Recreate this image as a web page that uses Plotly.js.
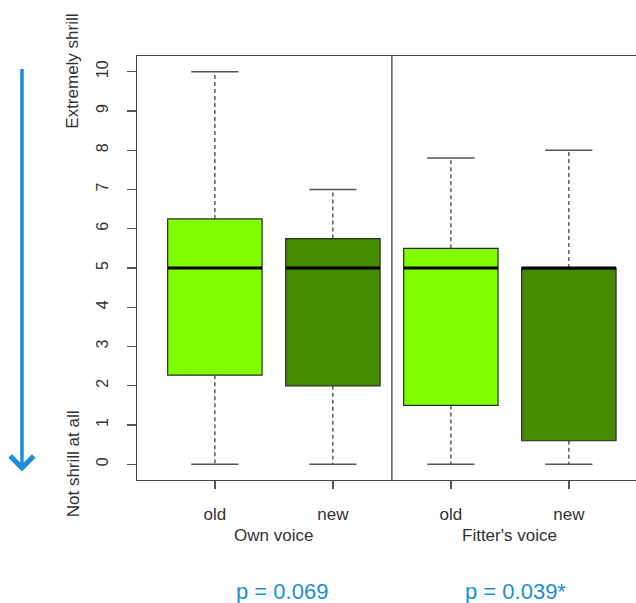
<!DOCTYPE html>
<html>
<head>
<meta charset="utf-8">
<script src="https://cdn.plot.ly/plotly-3.0.1.min.js"></script>
<style>html,body{margin:0;padding:0;background:#fff;}#chart{width:636px;height:603px;}</style>
</head>
<body>
<div id="chart"></div>
<script>
// Data
const positions   = [1, 2, 3, 4];
const tickLabels  = ["old", "new", "old", "new"];
const groupLabels = ["Own voice", "Fitter's voice"];
const groupCenters = [1.5, 3.5];
const pLabels     = ["p = 0.069", "p = 0.039*"];
const pCenters    = [1.57, 3.55];
const minVals     = [0, 0, 0, 0];
const q1Vals      = [2.27, 2.0, 1.5, 0.6];
const medianVals  = [5, 5, 5, 5];
const q3Vals      = [6.25, 5.75, 5.5, 5.0];
const maxVals     = [10, 7, 7.8, 8];
const boxColors   = ["#7FFF00", "#458B00", "#7FFF00", "#458B00"];

const BOXW = 0.8, CAPW = 0.4;
const FONT = "Liberation Sans, Arial";
const traces = [];

positions.forEach((p, i) => {
  traces.push({
    type: "box", x: [p], q1: [q1Vals[i]], median: [medianVals[i]], q3: [q3Vals[i]],
    lowerfence: [q1Vals[i]], upperfence: [q3Vals[i]],
    width: BOXW, whiskerwidth: 0, fillcolor: boxColors[i],
    line: {color: "#2a2a2a", width: 1.2}, hoverinfo: "skip", showlegend: false,
    boxpoints: false
  });
  // dashed whiskers
  traces.push({
    type: "scatter", mode: "lines", x: [p, p, null, p, p],
    y: [q3Vals[i], maxVals[i], null, q1Vals[i], minVals[i]],
    line: {color: "#444", width: 1.3, dash: "4px,3px"}, hoverinfo: "skip", showlegend: false
  });
  // caps
  traces.push({
    type: "scatter", mode: "lines",
    x: [p - CAPW/2, p + CAPW/2, null, p - CAPW/2, p + CAPW/2],
    y: [maxVals[i], maxVals[i], null, minVals[i], minVals[i]],
    line: {color: "#555", width: 1.5}, hoverinfo: "skip", showlegend: false
  });
  // thick median
  traces.push({
    type: "scatter", mode: "lines",
    x: [p - BOXW/2, p + BOXW/2], y: [medianVals[i], medianVals[i]],
    line: {color: "#000", width: 3}, hoverinfo: "skip", showlegend: false
  });
});

const annotations = [];
groupLabels.forEach((g, i) => annotations.push({
  text: g, x: groupCenters[i], xref: "x", y: 0, yref: "paper", yshift: -55,
  showarrow: false, yanchor: "middle", font: {family: FONT, size: 17, color: "#333"}
}));
pLabels.forEach((t, i) => annotations.push({
  text: t, x: pCenters[i], xref: "x", y: 0, yref: "paper", yshift: -111,
  showarrow: false, yanchor: "middle", font: {family: FONT, size: 22, color: "#1b8fd6"}
}));
annotations.push({
  text: "Extremely shrill", x: 0, xref: "paper", xshift: -64, y: 10, yref: "y",
  textangle: -90, showarrow: false, xanchor: "center", yanchor: "middle",
  font: {family: FONT, size: 17, color: "#333"}
});
annotations.push({
  text: "Not shrill at all", x: 0, xref: "paper", xshift: -64, y: 0, yref: "y",
  textangle: -90, showarrow: false, xanchor: "center", yanchor: "middle",
  font: {family: FONT, size: 17, color: "#333"}
});
// blue arrow
annotations.push({
  text: "", x: -0.2305, xref: "paper", y: 0.02, yref: "paper",
  showarrow: true, ax: 0, ay: -404, axref: "pixel", ayref: "pixel",
  arrowhead: 4, arrowsize: 1.3, arrowwidth: 3.5, arrowcolor: "#1b8fd6", standoff: 0
});

const layout = {
  width: 636, height: 603,
  margin: {l: 137, r: 0, t: 56, b: 122.5},
  paper_bgcolor: "#fff", plot_bgcolor: "#fff",
  font: {family: FONT, color: "#333", size: 17},
  showlegend: false,
  xaxis: {
    range: [0.34, 4.569], tickvals: positions, ticktext: tickLabels,
    showgrid: false, zeroline: false, showline: true, mirror: true, linecolor: "#444", linewidth: 1.3,
    ticks: "outside", ticklen: 8, tickcolor: "#555", tickwidth: 1.3,
    tickfont: {size: 17, color: "#333"}, ticklabelstandoff: 10, fixedrange: true
  },
  yaxis: {
    range: [-0.4, 10.4], tickvals: [0,1,2,3,4,5,6,7,8,9,10],
    tickangle: -90, showgrid: false, zeroline: false, showline: true, mirror: false,
    linecolor: "#444", linewidth: 1.3, ticks: "outside", ticklen: 9, tickcolor: "#555", tickwidth: 1.3,
    tickfont: {size: 16, color: "#333"}, ticklabelstandoff: 12, fixedrange: true
  },
  shapes: [{type: "line", xref: "x", yref: "paper", x0: 2.5, x1: 2.5, y0: 0, y1: 1,
            line: {color: "#444", width: 1.3}}],
  annotations: annotations
};

Plotly.newPlot("chart", traces, layout, {staticPlot: true, displayModeBar: false});
</script>
</body>
</html>
